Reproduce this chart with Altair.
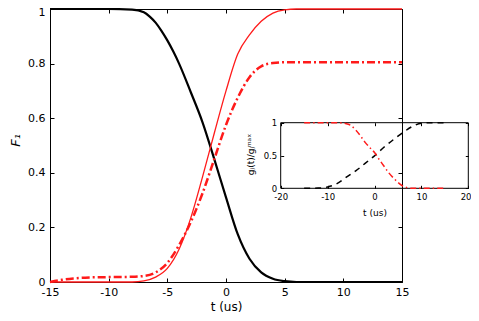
import altair as alt
import pandas as pd

# ---------------- data ----------------
# main panel
t_black = [-15, -10, -8, -7, -6.5, -6, -5.5, -5, -4.5, -4, -3, -2, -1, 0, 1, 2, 3, 4, 5, 6, 15]
f_black = [1, 1, 0.998, 0.988, 0.972, 0.95, 0.92, 0.885, 0.845, 0.80, 0.695, 0.585, 0.45, 0.31, 0.175, 0.085, 0.035, 0.012, 0.003, 0, 0]

t_red = [-15, -8, -7, -6, -5, -4, -3, -2, -1, 0, 1, 2, 3, 4, 5, 6, 15]
f_red = [0, 0, 0.004, 0.018, 0.05, 0.12, 0.235, 0.385, 0.545, 0.70, 0.835, 0.905, 0.955, 0.985, 0.997, 1, 1]

t_reddd = [-15, -14, -13, -12, -10, -8, -7, -6, -5, -4, -3, -2, -1, 0, 1, 2, 3, 4, 5, 15]
f_reddd = [0, 0.008, 0.013, 0.016, 0.018, 0.019, 0.022, 0.035, 0.07, 0.135, 0.22, 0.325, 0.45, 0.575, 0.675, 0.75, 0.79, 0.802, 0.805, 0.805]

# inset
t_in_black = [-15, -12, -10, -8, -6, -4, -2, 0, 2, 4, 6, 8, 10, 12, 15]
g_in_black = [0, 0.004, 0.02, 0.07, 0.17, 0.265, 0.38, 0.495, 0.625, 0.74, 0.845, 0.94, 0.99, 1, 1]

t_in_red = [-15, -8, -6, -5, -4, -3, -2, -1, 0, 1, 2, 3, 4, 5, 6, 7, 8, 15]
g_in_red = [1, 1, 0.985, 0.955, 0.89, 0.80, 0.70, 0.62, 0.545, 0.44, 0.34, 0.24, 0.16, 0.09, 0.035, 0.01, 0, 0]

# axes
main_x_domain = [-15, 15]
main_y_domain = [0, 1]
main_x_ticks = [-15, -10, -5, 0, 5, 10, 15]
main_y_ticks = [0, 0.2, 0.4, 0.6, 0.8, 1]
inset_x_domain = [-20, 20]
inset_y_domain = [0, 1]
inset_x_ticks = [-20, -10, 0, 10, 20]
inset_y_ticks = [0, 0.5, 1]

# ---------------- layout / style ----------------
W, H = 352, 273
FONT = "DejaVu Sans"
RED = "#ff1a1a"
IN_X0, IN_X1 = 230.7, 418.3   # inset placement inside the plot area (px)
IN_Y0, IN_Y1 = 179.3, 113.7
LAB = "datum.value < 0 ? '-' + format(-datum.value, '~g') : format(datum.value, '~g')"


def frame(t, v):
    return pd.DataFrame({"t": t, "v": v})


main_x = alt.Scale(domain=main_x_domain, nice=False, zero=False)
main_y = alt.Scale(domain=main_y_domain, nice=False, zero=False)

ax_bottom = alt.Axis(orient="bottom", values=main_x_ticks, offset=-4, tickSize=4, domain=False,
                     labelPadding=4, labelExpr=LAB, labelFlush=False, labelOverlap=False,
                     labelFontSize=11, title="t (us)", titleFontSize=12, titleFontWeight="normal",
                     titleY=28.5, titleBaseline="middle")
ax_top = alt.Axis(orient="top", values=main_x_ticks, offset=-4, tickSize=4, domain=False,
                  labels=False, title=None)
ax_left = alt.Axis(orient="left", values=main_y_ticks, offset=-4, tickSize=4, domain=False,
                   labelPadding=5, labelExpr=LAB, labelFlush=False, labelOverlap=False,
                   labelOffset={"condition": {"test": "datum.value >= 1", "value": 3.5}, "value": 0},
                   labelFontSize=11, title="F₁", titleFontSize=13, titleFontWeight="normal",
                   titleFontStyle="italic", titleX=-38.5, titleY=131, titleAngle=270,
                   titleBaseline="middle", titleAlign="center")
ax_right = alt.Axis(orient="right", values=main_y_ticks, offset=-4, tickSize=4, domain=False,
                    labels=False, title=None)

black = alt.Chart(frame(t_black, f_black)).mark_line(
    color="black", strokeWidth=2.2, interpolate="monotone").encode(
    x=alt.X("t:Q", scale=main_x, axis=ax_bottom),
    y=alt.Y("v:Q", scale=main_y, axis=ax_left))

red = alt.Chart(frame(t_red, f_red)).mark_line(
    color=RED, strokeWidth=1.3, interpolate="monotone").encode(
    x=alt.X("t:Q", scale=main_x, axis=ax_top),
    y=alt.Y("v:Q", scale=main_y, axis=ax_right))

reddd = alt.Chart(frame(t_reddd, f_reddd)).mark_line(
    color=RED, strokeWidth=2.5, strokeDash=[8, 3, 2, 3], interpolate="monotone").encode(
    x=alt.X("t:Q", scale=main_x, axis=None),
    y=alt.Y("v:Q", scale=main_y, axis=None))

main = alt.layer(black, red, reddd)

# ---------------- inset ----------------
inset_x = alt.Scale(domain=inset_x_domain, range=[IN_X0, IN_X1], nice=False, zero=False)
inset_y = alt.Scale(domain=inset_y_domain, range=[IN_Y0, IN_Y1], nice=False, zero=False)

in_bottom = alt.Axis(orient="bottom", values=inset_x_ticks, offset=(IN_Y0 - 3) - H, tickSize=3,
                     domain=False, labelPadding=4, labelExpr=LAB, labelFlush=False,
                     labelOverlap=False, labelFontSize=8.5,
                     labelAlign={"condition": {"test": "datum.value >= 20", "value": "right"},
                                 "value": "center"},
                     labelOffset={"condition": {"test": "datum.value >= 20", "value": 2.7},
                                  "value": 0},
                     title="t (us)", titleFontSize=9,
                     titleFontWeight="normal", titleY=27.2, titleBaseline="middle")
in_top = alt.Axis(orient="top", values=inset_x_ticks, offset=-(IN_Y1 + 3), tickSize=3,
                  domain=False, labels=False, title=None)
in_left = alt.Axis(orient="left", values=inset_y_ticks, offset=-(IN_X0 + 3), tickSize=3,
                   domain=False, labelPadding=4, labelExpr=LAB, labelFlush=False,
                   labelOverlap=False, labelFontSize=8.5, title="gⱼ(t)/gⱼᵐᵃˣ", titleFontSize=9,
                   titleFontWeight="normal", titleX=-33.7, titleY=145, titleAngle=270,
                   titleBaseline="middle", titleAlign="center")
in_right = alt.Axis(orient="right", values=inset_y_ticks, offset=(IN_X1 - 3) - W, tickSize=3,
                    domain=False, labels=False, title=None)

box = alt.Chart(pd.DataFrame({"x0": [inset_x_domain[0]], "x1": [inset_x_domain[1]],
                              "y0": [inset_y_domain[0]], "y1": [inset_y_domain[1]]})).mark_rect(
    fill="transparent", stroke="black", strokeWidth=1).encode(
    x=alt.X("x0:Q", scale=inset_x, axis=in_bottom), x2="x1:Q",
    y=alt.Y("y0:Q", scale=inset_y, axis=in_left), y2="y1:Q")

in_black = alt.Chart(frame(t_in_black, g_in_black)).mark_line(
    color="black", strokeWidth=1.5, strokeDash=[6, 5], interpolate="monotone").encode(
    x=alt.X("t:Q", scale=inset_x, axis=in_top),
    y=alt.Y("v:Q", scale=inset_y, axis=in_right))

in_red = alt.Chart(frame(t_in_red, g_in_red)).mark_line(
    color=RED, strokeWidth=1.5, strokeDash=[6, 3, 1.5, 3], interpolate="monotone").encode(
    x=alt.X("t:Q", scale=inset_x, axis=None),
    y=alt.Y("v:Q", scale=inset_y, axis=None))

inset = alt.layer(box, in_black, in_red)

chart = alt.layer(main, inset).resolve_scale(x="independent", y="independent").properties(
    width=W, height=H,
    autosize=alt.AutoSizeParams(type="none"),
    padding={"left": 42, "top": 1, "right": 69, "bottom": 31},
    background="white",
).configure_axis(
    grid=False, labelFont=FONT, titleFont=FONT, tickColor="black", labelColor="black",
    titleColor="black", tickWidth=1,
).configure_view(stroke="black", strokeWidth=1)

chart.save("out.html", embed_options={"renderer": "svg", "actions": False})
